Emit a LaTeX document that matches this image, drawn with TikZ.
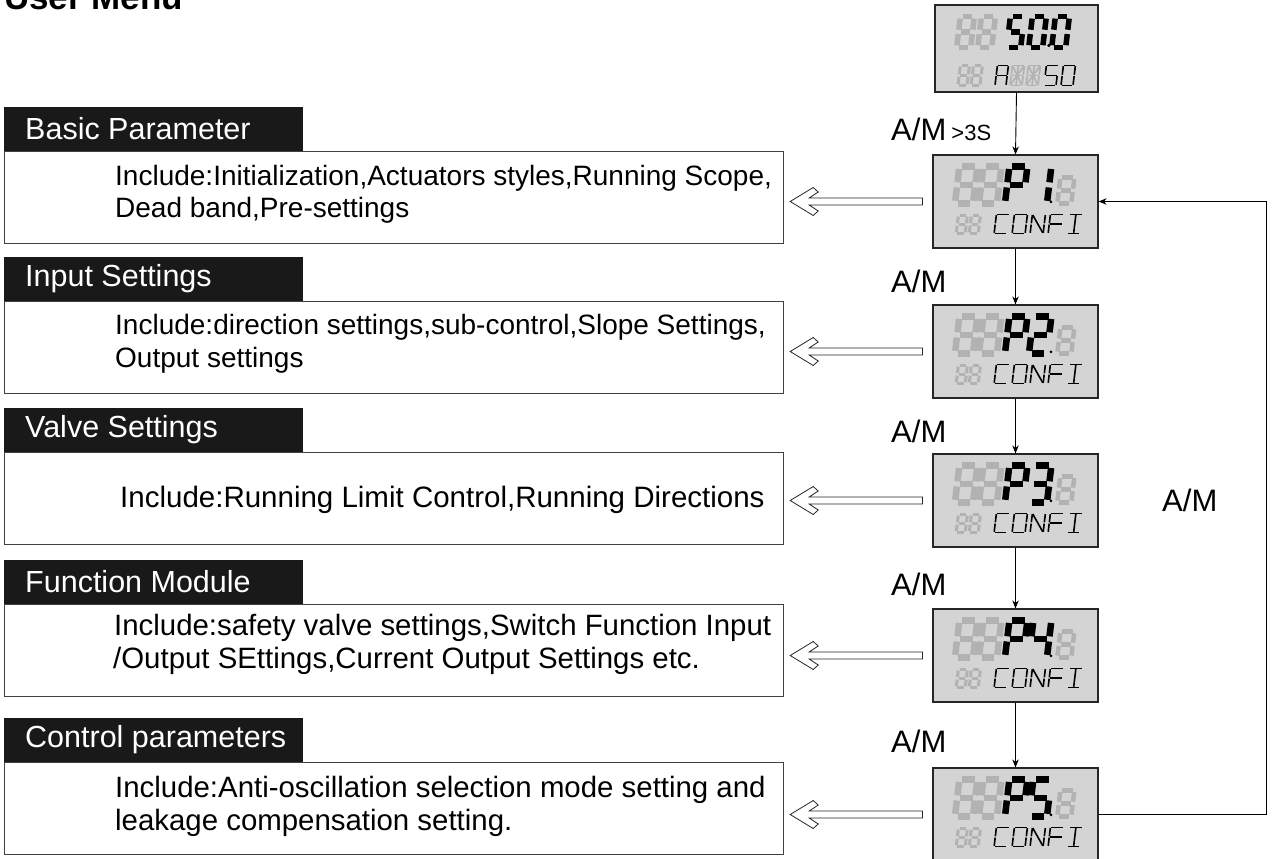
\documentclass[tikz,border=0pt]{standalone}
\usepackage{fontspec}
\setmainfont{Liberation Sans}
\usetikzlibrary{arrows.meta,calc}
\definecolor{lcdbg}{RGB}{212,212,212}
\definecolor{lcdoff}{RGB}{178,178,178}
\tikzset{
  sg/.style 2 args={line width=#1, draw=#2, line cap=butt, shorten <=0.4*#1, shorten >=0.4*#1},
  lcd/.style={draw=black!85, line width=1.2pt, fill=lcdbg, minimum width=165pt, minimum height=93pt, inner sep=0pt},
  tab/.style={fill=black!90, text=white, minimum height=44pt, minimum width=299pt, inner sep=0pt, font=\fontsize{30.5}{32}\selectfont, anchor=south west},
  bodybox/.style={draw=black!75, line width=1.2pt, minimum width=779pt, minimum height=92pt, inner sep=0pt, anchor=north west},
  bodytext/.style={anchor=base west, inner sep=0pt, font=\fontsize{28}{33}\selectfont},
  bigtext/.style={bodytext, font=\fontsize{29.4}{33}\selectfont},
  amlab/.style={anchor=west, inner sep=0pt, font=\fontsize{31}{31}\selectfont},
  varrow/.style={line width=0.9pt, -{Stealth[length=8pt,width=6.5pt]}},
  hollow/.style={line width=0.8pt, fill=white, draw=black!85},
}
\newcommand\tabtext[1]{\hspace*{21pt}\makebox[278pt][l]{#1}}
% seven-segment style glyph: x, y (top-left), w, h, thickness, colour, segments
\newcommand\segd[7]{%
\begin{scope}[shift={(#1,#2)},xslant=0.12]
\foreach \s in {#7}{%
\ifcase\s\or
\draw[sg={#5}{#6}] (0,0)--(#3,0);\or
\draw[sg={#5}{#6}] (#3,0)--(#3,#4/2);\or
\draw[sg={#5}{#6}] (#3,#4/2)--(#3,#4);\or
\draw[sg={#5}{#6}] (0,#4)--(#3,#4);\or
\draw[sg={#5}{#6}] (0,#4/2)--(0,#4);\or
\draw[sg={#5}{#6}] (0,0)--(0,#4/2);\or
\draw[sg={#5}{#6}] (0,#4/2)--(#3,#4/2);\or
\draw[sg={#5}{#6}] (0,0)--(#3,#4);\or
\draw[sg={#5}{#6}] (#3/2,0)--(#3/2,#4);\or
\draw[sg={#5}{#6}] (#3,0)--(0,#4);\fi}
\end{scope}}
\newcommand\lcdP[2]{%
\begin{scope}[shift={(#1.north west)}]
  \segd{27}{12}{18}{37}{6.5pt}{lcdoff}{1,2,3,4,5,6,7}
  \segd{51}{12}{18}{37}{6.5pt}{lcdoff}{1,2,3,4,5,6,7}
  \segd{77}{12}{18}{37}{6.5pt}{black}{1,2,5,6,7}
  \segd{101}{12}{18}{37}{6.5pt}{black}{#2}
  \fill[black] (118.5,47.5) circle (1.5);
  \segd{128}{23}{14}{26}{4.5pt}{lcdoff}{1,2,3,4,5,6,7}
  \segd{26}{61}{9}{18}{3pt}{lcdoff}{1,2,3,4,5,6,7}
  \segd{39}{61}{9}{18}{3pt}{lcdoff}{1,2,3,4,5,6,7}
  \segd{64}{60}{13}{19}{1.6pt}{black}{1,6,5,4}
  \segd{82}{60}{13}{19}{1.6pt}{black}{1,2,3,4,5,6}
  \segd{100}{60}{13}{19}{1.6pt}{black}{6,5,2,3,8}
  \segd{118}{60}{13}{19}{1.6pt}{black}{1,6,5,7}
  \segd{137}{60}{13}{19}{1.6pt}{black}{1,4,9}
\end{scope}}
\newcommand\hollowarr[2]{%
  \coordinate (#1tip) at ($(#1.west -| #2.east)+(6,0)$);
  \coordinate (#1tail) at ($(#1.west)+(-10,0)$);
  \draw[hollow] (#1tip) -- ($(#1tip)+(23,-14)$) -- ($(#1tip)+(28,-9.5)$) -- ($(#1tip)+(19,-3.5)$)
    -- ($(#1tail)+(0,-3.5)$) -- ($(#1tail)+(0,3.5)$) -- ($(#1tip)+(19,3.5)$)
    -- ($(#1tip)+(28,9.5)$) -- ($(#1tip)+(23,14)$) -- cycle;
}
\begin{document}
\begin{tikzpicture}[x=1pt,y=-1pt]
\useasboundingbox (0,0) rectangle (1272,859);
% title (cut at top)
\node[anchor=base west, inner sep=0pt, font=\bfseries\fontsize{35}{35}\selectfont] (title) at (4,10) {User Menu};

% displays
\node[lcd, minimum width=163pt, minimum height=87pt] (d0) at (1016.5,48.5) {};
\node[lcd] (p1) at (1015.5,201.5) {};
\node[lcd] (p2) at (1015.5,351.5) {};
\node[lcd] (p3) at (1015.5,500.5) {};
\node[lcd] (p4) at (1015.5,655.5) {};
\node[lcd] (p5) at (1015.5,814.5) {};

\begin{scope}[shift={(d0.north west)}]
  \segd{26}{12}{14}{31}{5.5pt}{lcdoff}{1,2,3,4,5,6,7}
  \segd{47}{12}{14}{31}{5.5pt}{lcdoff}{1,2,3,4,5,6,7}
  \segd{76}{12}{14}{31}{5.5pt}{black}{1,6,7,3,4}
  \segd{98}{12}{14}{31}{5.5pt}{black}{1,2,3,4,5,6}
  \fill[black] (114.5,41) circle (1.8);
  \segd{121}{12}{14}{31}{5.5pt}{black}{1,2,3,4,5,6}
  \segd{26}{61}{9}{20}{3pt}{lcdoff}{1,2,3,4,5,6,7}
  \segd{39}{61}{9}{20}{3pt}{lcdoff}{1,2,3,4,5,6,7}
  \segd{63}{61}{11}{20}{1.6pt}{black}{1,2,3,5,6,7}
  \segd{78}{61}{12}{20}{1.6pt}{lcdoff}{1,2,3,4,5,6,7,8,9,10}
  \segd{94}{61}{12}{20}{1.6pt}{lcdoff}{1,2,3,4,5,6,7,8,9,10}
  \segd{112}{61}{12}{20}{1.6pt}{black}{1,6,7,3,4}
  \segd{129}{61}{12}{20}{1.6pt}{black}{1,2,3,4,5,6}
\end{scope}
\lcdP{p1}{2,3}
\lcdP{p2}{1,2,7,5,4}
\lcdP{p3}{1,2,7,3,4}
\lcdP{p4}{6,7,2,3}
\lcdP{p5}{1,6,7,3,4}

% left panels
\node[bodybox] (b1) at (4,151) {};
\node[tab] (t1) at (b1.north west) {\tabtext{Basic Parameter}};
\node[bodytext] (x1a) at (115,185) {Include:Initialization,Actuators styles,Running Scope,};
\node[bodytext] (x1b) at (115,217) {Dead band,Pre-settings};

\node[bodybox] (b2) at (4,301) {};
\node[tab] (t2) at (b2.north west) {\tabtext{Input Settings}};
\node[bodytext] (x2a) at (115,334) {Include:direction settings,sub-control,Slope Settings,};
\node[bodytext] (x2b) at (115,367) {Output settings};

\node[bodybox] (b3) at (4,452) {};
\node[tab] (t3) at (b3.north west) {\tabtext{Valve Settings}};
\node[bodytext, font=\fontsize{29.5}{33}\selectfont] (x3a) at (120,507) {Include:Running Limit Control,Running Directions};

\node[bodybox] (b4) at (4,604) {};
\node[tab] (t4) at (b4.north west) {\tabtext{Function Module}};
\node[bigtext] (x4a) at (114,635) {Include:safety valve settings,Switch Function Input};
\node[bigtext] (x4b) at (113,668) {/Output SEttings,Current Output Settings etc.};

\node[bodybox] (b5) at (4,762) {};
\node[tab] (t5) at (b5.north west) {\tabtext{Control parameters}};
\node[bigtext] (x5a) at (115,797) {Include:Anti-oscillation selection mode setting and};
\node[bigtext] (x5b) at (115,830) {leakage compensation setting.};

% hollow arrows
\hollowarr{p1}{b1}
\hollowarr{p2}{b2}
\hollowarr{p3}{b3}
\hollowarr{p4}{b4}
\hollowarr{p5}{b5}

% vertical flow
\draw[varrow] (d0.south) -- (p1.north);
\draw[varrow] (p1.south) -- (p2.north);
\draw[varrow] (p2.south) -- (p3.north);
\draw[varrow] (p3.south) -- (p4.north);
\draw[varrow] (p4.south) -- (p5.north);
\draw[varrow] (p5.east) -- ++(168,0) coordinate (ret) |- (p1.east);

% labels
\node[amlab] (l0) at (891,129) {A/M\,{\fontsize{22}{22}\selectfont >3S}};
\node[amlab] (l2) at (891,281) {A/M};
\node[amlab] (l3) at (891,431) {A/M};
\node[amlab] (l4) at (891,584) {A/M};
\node[amlab] (l5) at (891,741) {A/M};
\node[amlab] (lr) at (1162,500) {A/M};
\end{tikzpicture}
\end{document}
